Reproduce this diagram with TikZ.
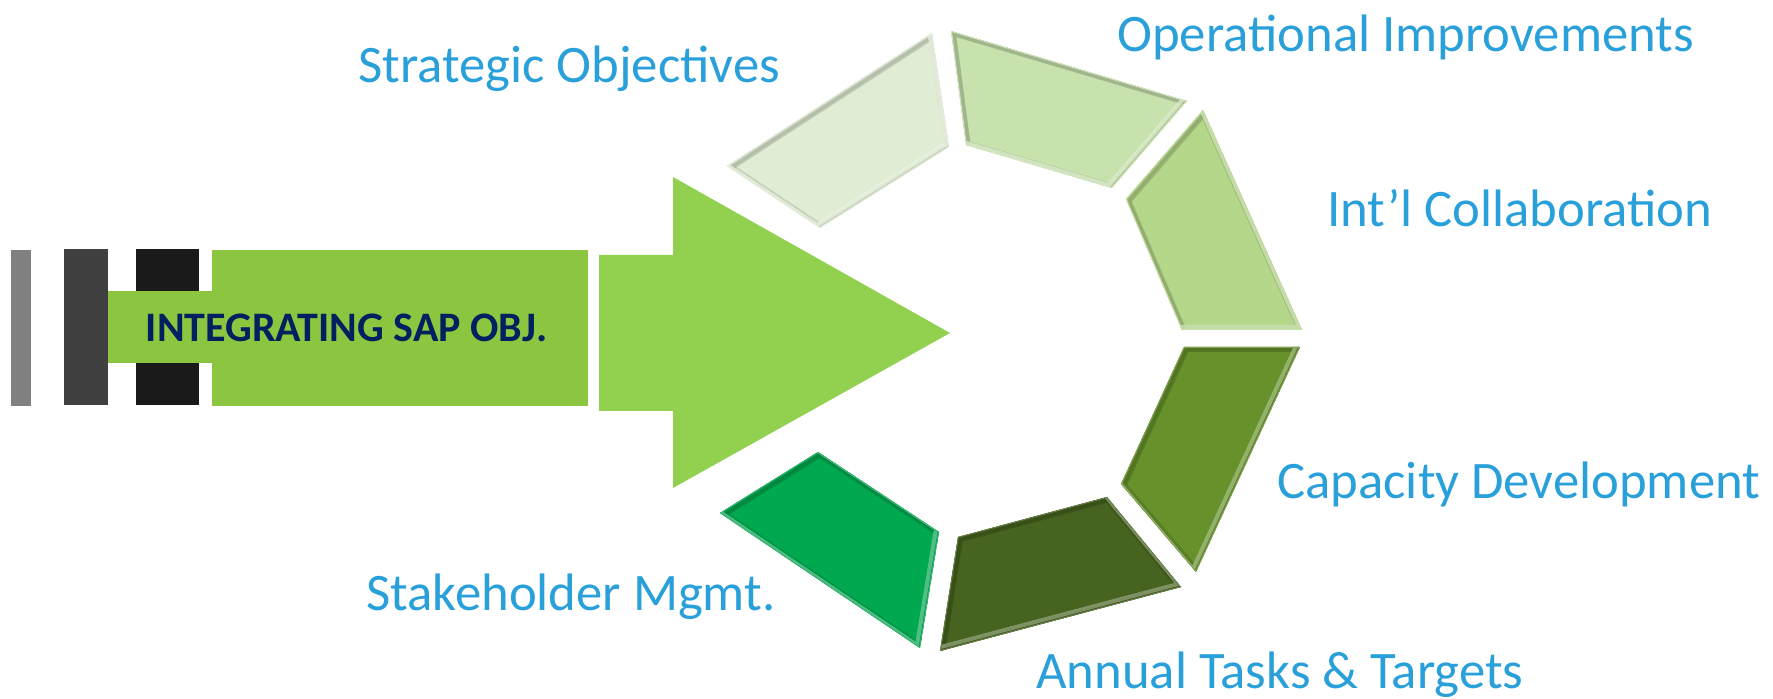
\documentclass[tikz,border=0pt]{standalone}
\usepackage{fontspec}
\setmainfont{Carlito}
\definecolor{segA}{HTML}{E0ECD4}
\definecolor{segB}{HTML}{C8E2AE}
\definecolor{segC}{HTML}{B5D78A}
\definecolor{segD}{HTML}{66912B}
\definecolor{segE}{HTML}{46631F}
\definecolor{segF}{HTML}{00A84F}
\definecolor{arrowgreen}{HTML}{92D050}
\definecolor{rectgreen}{HTML}{8CC540}
\definecolor{labelblue}{HTML}{29A0DA}
\definecolor{navy}{HTML}{002060}
\definecolor{barA}{HTML}{808080}
\definecolor{barB}{HTML}{404040}
\definecolor{barC}{HTML}{1A1A1A}
\newcommand\bevelseg[5]{%
  \begin{scope}
    \clip #2--#3--#4--#5--cycle;
    \fill[#1] #2--#3--#4--#5--cycle;
    \draw[#1!88!black, line width=4.5pt, line join=miter] #2--#3--#4--#5--cycle;
    \draw[#1!75!black, line width=2pt, line join=miter, opacity=0.6, shift={(3,3)}] #2--#3--#4--#5--cycle;
    \draw[#1!55!white, line width=2pt, line join=miter, opacity=0.7, shift={(-3,-3)}] #2--#3--#4--#5--cycle;
    \draw[#1!80!white, line width=0.8pt, line join=miter] #2--#3--#4--#5--cycle;
  \end{scope}}
\tikzset{
  lbl/.style={anchor=base west, inner sep=0pt, text=labelblue,
    font=\fontsize{26.35pt}{30pt}\selectfont},
}
\begin{document}
\begin{tikzpicture}[x=0.5pt,y=-0.5pt]
\useasboundingbox (0,0) rectangle (1773,699);
% left bars
\fill[barA] (11,250) rectangle (31,406);
\fill[barB] (64,249) rectangle (108,405);
\fill[barC] (136,249) rectangle (199,405);
\fill[rectgreen] (108,291) rectangle (212,363);
\fill[rectgreen] (212,250) rectangle (588,406);
\node[anchor=base, inner sep=0pt, text=navy, font=\bfseries\fontsize{21pt}{24pt}\selectfont] (main) at (346.5,342) {INTEGRATING SAP OBJ.};
% arrow
\fill[arrowgreen] (599,255) -- (673,255) -- (673,177) -- (950,333) -- (673,488) -- (673,411) -- (599,411) -- cycle;
% ring segments
\bevelseg{segA}{(727,166)}{(932,33)}{(949,147)}{(820,228)}
\bevelseg{segB}{(951,31)}{(1187,101)}{(1112,188)}{(966,145)}
\bevelseg{segC}{(1203,110)}{(1302,330)}{(1182,330)}{(1126,199)}
\bevelseg{segD}{(1184,347)}{(1300,347)}{(1196,572)}{(1121,484)}
\bevelseg{segE}{(958,537)}{(1107,497)}{(1181,587)}{(940,651)}
\bevelseg{segF}{(818,452)}{(939,532)}{(920,648)}{(720,513)}
% labels
\node[lbl] (so) at (358,83) {Strategic Objectives};
\node[lbl] (oi) at (1117,52) {Operational Improvements};
\node[lbl] (ic) at (1327,227) {Int’l Collaboration};
\node[lbl] (cd) at (1277,499) {Capacity Development};
\node[lbl] (at) at (1036,689) {Annual Tasks \& Targets};
\node[lbl] (sm) at (366,611) {Stakeholder Mgmt.};
\end{tikzpicture}
\end{document}
